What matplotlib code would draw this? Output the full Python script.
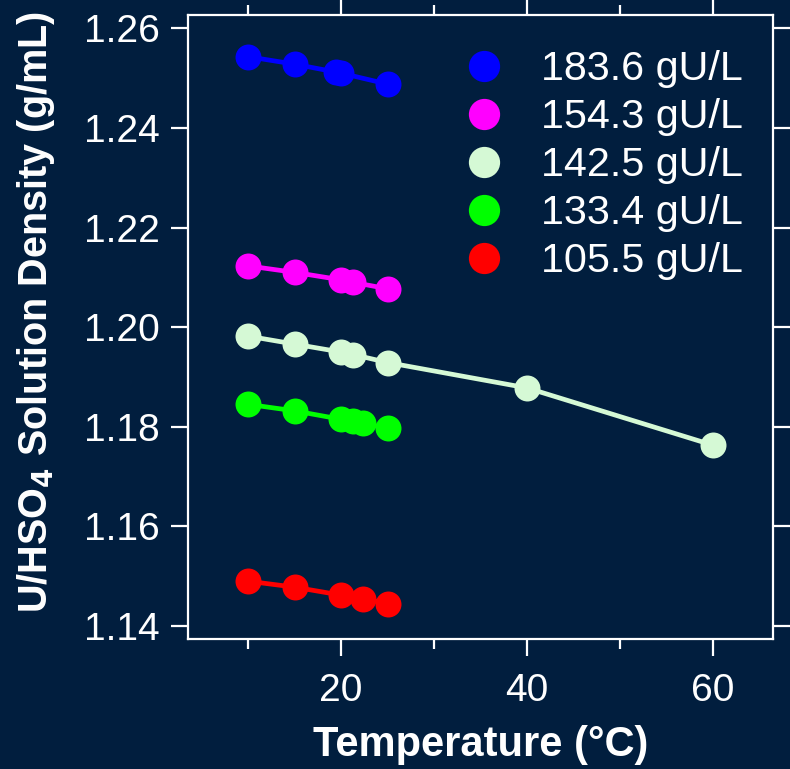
import matplotlib.pyplot as plt
from matplotlib.lines import Line2D

plt.rcParams['font.family'] = ['Liberation Sans', 'DejaVu Sans']
plt.rcParams['mathtext.default'] = 'bf'

# temperatures (deg C) and densities (g/mL) for each uranium concentration
labels = ["183.6 gU/L", "154.3 gU/L", "142.5 gU/L", "133.4 gU/L", "105.5 gU/L"]
colors = ["#0000ff", "#ff00ff", "#d5f9d5", "#00ff00", "#ff0000"]

temp_1836 = [10, 15, 19.5, 20, 25]
dens_1836 = [1.2543, 1.2528, 1.2512, 1.2510, 1.2488]

temp_1543 = [10, 15, 20, 21.3, 25]
dens_1543 = [1.2123, 1.2110, 1.2095, 1.2090, 1.2077]

temp_1425 = [10, 15, 20, 21.3, 25, 40, 60]
dens_1425 = [1.1982, 1.1966, 1.1950, 1.1945, 1.1929, 1.1878, 1.1763]

temp_1334 = [10, 15, 20, 21.3, 22.4, 25]
dens_1334 = [1.1845, 1.1832, 1.1815, 1.1811, 1.1807, 1.1797]

temp_1055 = [10, 15, 20, 22.4, 25]
dens_1055 = [1.1490, 1.1478, 1.1462, 1.1455, 1.1445]

temps = [temp_1836, temp_1543, temp_1425, temp_1334, temp_1055]
dens = [dens_1836, dens_1543, dens_1425, dens_1334, dens_1055]

bg = "#011e3e"
fig = plt.figure(figsize=(7.9, 7.69), dpi=100, facecolor=bg)
ax = fig.add_axes([188.3 / 790, 1 - 639.3 / 769, 584.4 / 790, 624.3 / 769])
ax.set_facecolor(bg)

for t, d, c in zip(temps, dens, colors):
    ax.plot(t, d, color=c, lw=3.4, marker="o", ms=18.7, mec=c, mew=0)

ax.set_xlim(3.58, 66.42)
ax.set_ylim(1.13733, 1.26267)
ax.set_xticks([20, 40, 60])
ax.set_xticks([10, 30, 50], minor=True)
ax.set_yticks([1.14, 1.16, 1.18, 1.20, 1.22, 1.24, 1.26])

for s in ax.spines.values():
    s.set_color("white")
    s.set_linewidth(1.6)

ax.tick_params(which="both", direction="out", colors="white", width=1.6,
               top=True, right=True, labelsize=28)
ax.tick_params(which="major", length=12.5)
ax.tick_params(which="minor", length=7)
ax.tick_params(axis="x", pad=12)
ax.tick_params(axis="y", pad=8)

ax.set_xlabel("Temperature (°C)", color="white", fontsize=30, fontweight="bold")
ax.xaxis.set_label_coords(0.5, -0.137)
ax.set_ylabel("U/HSO$_4$ Solution Density (g/mL)", color="white", fontsize=28.5,
              fontweight="bold")
ax.yaxis.set_label_coords(-0.225, 0.524)

handles = [Line2D([], [], ls="none", marker="o", ms=22.5, color=c, mew=0) for c in colors]
leg = ax.legend(handles, labels, loc="upper left", bbox_to_anchor=(462.9 / 790, 1 - 50 / 769),
                bbox_transform=fig.transFigure, frameon=False, fontsize=29.7,
                handlelength=1.0, handletextpad=0.9, labelspacing=0.245,
                borderpad=0, borderaxespad=0)
for txt in leg.get_texts():
    txt.set_color("white")

plt.savefig("out.png", facecolor=bg)
